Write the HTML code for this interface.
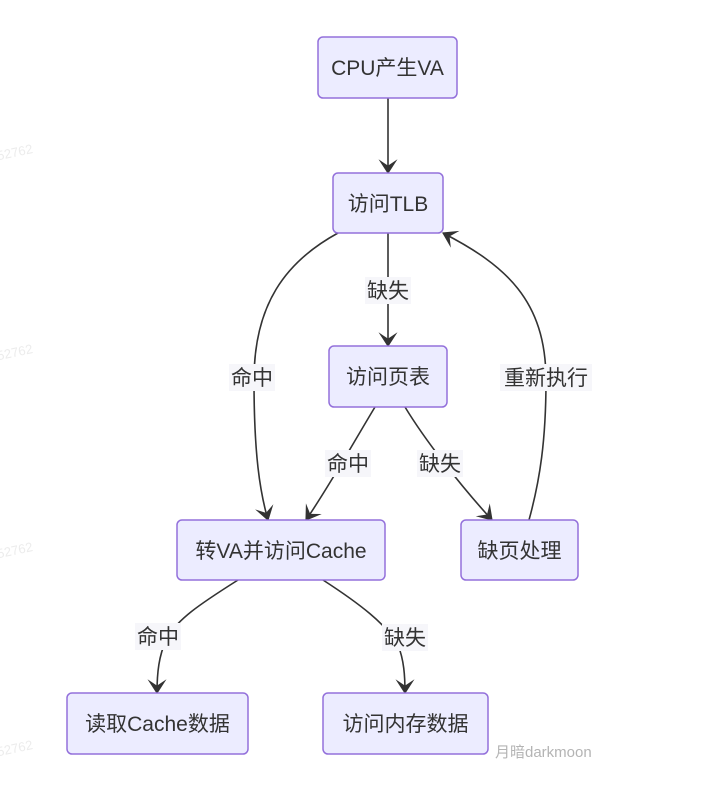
<!DOCTYPE html>
<html>
<head>
<meta charset="utf-8">
<style>
  html, body { margin:0; padding:0; background:#ffffff; }
  body { width:710px; height:786px; overflow:hidden; }
  svg { display:block; }
  .node { fill:#ECECFF; stroke:#9370DB; stroke-width:1.5; }
  .t { font-family:"Liberation Sans","Noto Sans CJK SC",sans-serif; font-size:21px; fill:#333; text-anchor:middle; }
  .e { fill:none; stroke:#333; stroke-width:1.6; }
  .lb { fill:#f6f6fa; }
  .wm { font-family:"Liberation Sans",sans-serif; font-size:13px; fill:#ececec; }
</style>
</head>
<body>
<svg width="710" height="786" viewBox="0 0 710 786" xmlns="http://www.w3.org/2000/svg">
  <defs>
    <marker id="ah" viewBox="0 0 14 18" refX="13" refY="9" markerWidth="15" markerHeight="19" markerUnits="userSpaceOnUse" orient="auto">
      <path d="M0,0 L14,9 L0,18 L6,9 Z" fill="#333"/>
    </marker>
  </defs>

  <!-- watermarks -->
  <text class="wm" x="-2" y="160" transform="rotate(-12 0 160)">52762</text>
  <text class="wm" x="-2" y="360" transform="rotate(-12 0 360)">52762</text>
  <text class="wm" x="-2" y="558" transform="rotate(-12 0 558)">52762</text>
  <text class="wm" x="-2" y="756" transform="rotate(-12 0 756)">52762</text>

  <!-- edges -->
  <path class="e" d="M388,98 L388,173" marker-end="url(#ah)"/>
  <path class="e" d="M388,233 L388,346" marker-end="url(#ah)"/>
  <path class="e" d="M338,233 C285,262 254,305 254,380 C254,455 260,492 268,520" marker-end="url(#ah)"/>
  <path class="e" d="M375,407 C355,440 330,485 306,520" marker-end="url(#ah)"/>
  <path class="e" d="M405,407 C425,440 460,485 492,520" marker-end="url(#ah)"/>
  <path class="e" d="M529,520 C540,480 546,440 546,380 C546,300 505,265 443,233" marker-end="url(#ah)"/>
  <path class="e" d="M238,580 C200,604 176,620 166,640 C159,656 157,672 157,693" marker-end="url(#ah)"/>
  <path class="e" d="M323,580 C360,604 386,624 398,645 C404,660 405,676 405,693" marker-end="url(#ah)"/>

  <!-- edge labels -->
  <rect class="lb" x="365" y="277" width="46" height="27"/>
  <text class="t" x="388" y="298">缺失</text>

  <rect class="lb" x="229" y="364" width="46" height="27"/>
  <text class="t" x="252" y="385">命中</text>

  <rect class="lb" x="500" y="364" width="92" height="27"/>
  <text class="t" x="546" y="385">重新执行</text>

  <rect class="lb" x="325" y="450" width="46" height="27"/>
  <text class="t" x="348" y="471">命中</text>

  <rect class="lb" x="417" y="450" width="46" height="27"/>
  <text class="t" x="440" y="471">缺失</text>

  <rect class="lb" x="135" y="623" width="46" height="27"/>
  <text class="t" x="158" y="644">命中</text>

  <rect class="lb" x="382" y="624" width="46" height="27"/>
  <text class="t" x="405" y="645">缺失</text>

  <!-- nodes -->
  <rect class="node" x="318" y="37" width="139" height="61" rx="5"/>
  <text class="t" x="387.5" y="75">CPU产生VA</text>

  <rect class="node" x="333" y="173" width="110" height="60" rx="5"/>
  <text class="t" x="388" y="211">访问TLB</text>

  <rect class="node" x="329" y="346" width="118" height="61" rx="5"/>
  <text class="t" x="388" y="384">访问页表</text>

  <rect class="node" x="177" y="520" width="208" height="60" rx="5"/>
  <text class="t" x="281" y="558">转VA并访问Cache</text>

  <rect class="node" x="461" y="520" width="117" height="60" rx="5"/>
  <text class="t" x="519.5" y="558">缺页处理</text>

  <rect class="node" x="67" y="693" width="181" height="61" rx="5"/>
  <text class="t" x="157.5" y="731">读取Cache数据</text>

  <rect class="node" x="323" y="693" width="165" height="61" rx="5"/>
  <text class="t" x="405.5" y="731">访问内存数据</text>

  <!-- author watermark -->
  <text x="495" y="757" style="font-family:'Liberation Sans','Noto Sans CJK SC',sans-serif;font-size:15px;fill:#b4b4b4;">月暗darkmoon</text>
</svg>
</body>
</html>
